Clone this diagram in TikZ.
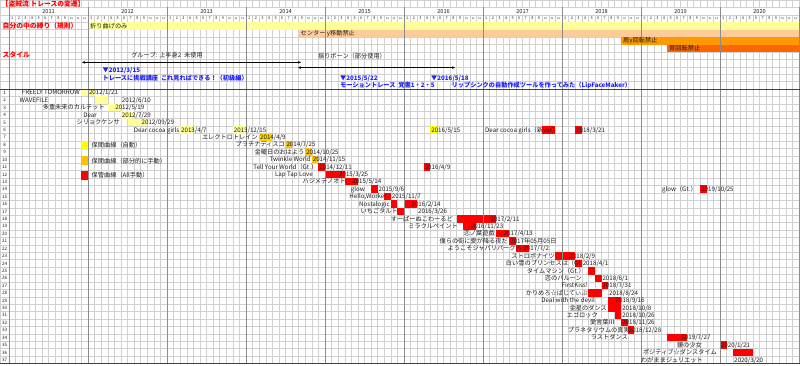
\documentclass[tikz,border=0pt]{standalone}
\usepackage{fontspec}
\setmainfont{Noto Sans CJK JP}
\usetikzlibrary{arrows.meta}
\definecolor{gridc}{HTML}{D0D0D0}
\definecolor{yearc}{HTML}{8C8C8C}
\definecolor{darkc}{HTML}{404040}
\definecolor{paley}{HTML}{FFFF99}
\definecolor{bandy}{HTML}{FFFF99}
\definecolor{peach}{HTML}{FFCC99}
\definecolor{orng}{HTML}{FF9900}
\definecolor{dorng}{HTML}{FF6600}
\definecolor{yel}{HTML}{FFFF00}
\definecolor{gold}{HTML}{FFC000}
\definecolor{goldy}{HTML}{FFD700}
\definecolor{redc}{HTML}{FF0000}
\definecolor{bluec}{HTML}{1F1FFF}
\definecolor{txt}{HTML}{202020}
\newcommand\fsm{\fontsize{6.2}{7}\selectfont}
\newcommand\fsh{\fontsize{6.8}{8}\selectfont\bfseries}
\newcommand\fsb{\fontsize{6.2}{7}\selectfont\bfseries}
\newcommand\rowlbl[4]{\node[lbx] (#1) at (#3,{89.04+(#2-0.5)*7.42}) {#4};}
\newcommand\rowdate[4]{\node[dtx] (#1) at ({9.8+#3*6.58333},{89.04+(#2-0.5)*7.42}) {#4};}
\newcommand\rowbar[4]{\fill[#4] ({9+#2*6.58333},{89.04+(#1-1)*7.42}) rectangle ({9+(#3+1)*6.58333},{89.04+#1*7.42});}
\begin{document}
\begin{tikzpicture}[x=1pt,y=-1pt,
  gl/.style={draw=gridc,line width=0.5pt},
  yl/.style={draw=yearc,line width=0.8pt},
  dk/.style={draw=darkc,line width=0.8pt},
  lbx/.style={anchor=east,inner sep=0,font=\fsm,text=txt,text height=5pt,text depth=0.6pt},
  dtx/.style={anchor=west,inner sep=0,font=\fsm,text=txt,text height=5pt,text depth=0.6pt},
  lfx/.style={anchor=west,inner sep=0,font=\fsm,text=txt,text height=5pt,text depth=0.6pt},
  hred/.style={anchor=west,inner sep=0,font=\fsh,text=redc,text height=5pt,text depth=0.6pt},
  hblue/.style={anchor=west,inner sep=0,font=\fsb,text=bluec,text height=5pt,text depth=0.6pt},
  rn/.style={inner sep=0,font=\fontsize{4.6}{5}\selectfont,text=txt},
  mn/.style={inner sep=0,font=\fontsize{3.8}{4}\selectfont,text=txt},
  mns/.style={inner sep=0,font=\fontsize{2.7}{3}\selectfont,text=txt},
  yr/.style={inner sep=0,font=\fontsize{5.6}{6}\selectfont,text=txt},
  arr/.style={{Stealth[length=3pt,width=2.6pt]}-{Stealth[length=3pt,width=2.6pt]},line width=0.5pt,draw=black}]
\fill[white] (0,0) rectangle (800,366);
\useasboundingbox (0,0) rectangle (800,366);
% grid
\foreach \k in {1,...,120} {
  \draw[gl] ({9+\k*6.58333},0) -- ({9+\k*6.58333},7.42);
  \draw[gl] ({9+\k*6.58333},14.84) -- ({9+\k*6.58333},363.6);
}
\draw[gl] (0.4,0) -- (0.4,363.6);
\draw[gl] (9,0) -- (9,7.42);
\foreach \j in {0,...,48} \draw[gl] (0,{\j*7.42}) -- (800,{\j*7.42});
% rule bands
\fill[bandy] (88,22.26) rectangle (800,29.68);
\fill[peach] (298.67,29.68) rectangle (800,37.1);
\fill[orng] (621.25,37.1) rectangle (800,44.52);
\fill[dorng] (667.33,44.52) rectangle (800,51.94);
% bars
\rowbar{1}{11}{12}{paley}
\rowbar{2}{13}{14}{paley}
\rowbar{3}{15}{16}{paley}
\rowbar{4}{17}{18}{paley}
\rowbar{5}{18}{20}{paley}
\rowbar{6}{26}{27}{paley}
\rowbar{6}{34}{35}{paley}
\rowbar{6}{64}{64}{yel}
\rowbar{6}{81}{82}{redc}
\rowbar{6}{86}{86}{redc}
\rowbar{7}{38}{39}{goldy}
\rowbar{8}{42}{42}{gold}
\rowbar{9}{45}{45}{gold}
\rowbar{10}{46}{46}{gold}
\rowbar{11}{47}{47}{redc}
\rowbar{11}{63}{63}{redc}
\rowbar{12}{48}{50}{redc}
\rowbar{13}{51}{52}{redc}
\rowbar{14}{55}{55}{redc}
\rowbar{14}{105}{105}{redc}
\rowbar{15}{57}{57}{redc}
\rowbar{16}{58}{58}{redc}
\rowbar{16}{60}{61}{redc}
\rowbar{17}{59}{59}{redc}
\rowbar{18}{68}{73}{redc}
\rowbar{19}{69}{70}{redc}
\rowbar{20}{74}{75}{redc}
\rowbar{21}{76}{76}{redc}
\rowbar{22}{77}{78}{redc}
\rowbar{23}{83}{85}{redc}
\rowbar{24}{86}{86}{redc}
\rowbar{25}{88}{88}{redc}
\rowbar{26}{89}{89}{redc}
\rowbar{27}{90}{90}{redc}
\rowbar{28}{88}{89}{redc}
\rowbar{29}{91}{92}{redc}
\rowbar{30}{91}{92}{redc}
\rowbar{31}{92}{92}{redc}
\rowbar{32}{93}{93}{redc}
\rowbar{33}{94}{94}{redc}
\rowbar{34}{100}{102}{redc}
\rowbar{35}{108}{108}{redc}
\rowbar{36}{110}{112}{redc}
% legend squares
\fill[yel] (81.42,141.2) rectangle (88.2,149.8);
\fill[gold] (81.42,156.5) rectangle (88.2,165.1);
\fill[redc] (81.42,171.1) rectangle (88.2,179.7);
% year lines and rules
\foreach \i in {0,...,10} \draw[yl] ({9+\i*79},7.42) -- ({9+\i*79},363.6);
\draw[dk] (0,89.04) -- (800,89.04);
\draw[dk] (0,363.6) -- (800,363.6);
% header texts
\node[hred] (title) at (1.5,3.9) {【盗賊流 トレースの変遷】};
\foreach \i in {0,...,9} {
  \pgfmathtruncatemacro\yy{2011+\i}
  \node[yr] (y\i) at ({9+(\i+0.5)*79},11.1) {\yy};
  \foreach \m in {1,...,9}
    \node[mn] (m\i-\m) at ({9+(\i*12+\m-0.5)*6.58333},18.6) {\m};
  \foreach \m in {10,11,12}
    \node[mns] (m\i-\m) at ({9+(\i*12+\m-0.5)*6.58333},18.6) {\m};
}
\node[hred] (rule) at (2.5,26) {自分の中の縛り（規則）};
\node[lfx] (r0) at (90,26) {折り曲げのみ};
\node[lfx] (r1c) at (300.5,33.4) {センター y移動禁止};
\node[lfx] (r2c) at (623,40.8) {肩y回転禁止};
\node[lfx] (r3c) at (669,48.2) {首回転禁止};
\node[hred] (style) at (2.5,55.6) {スタイル};
\node[lfx,anchor=center] (grp) at (167,55.6) {グループ: 上半身2 \ 未使用};
\node[lfx,anchor=center] (yure) at (352,56.6) {揺りボーン（部分使用）};
\coordinate (a1s) at (82,62.3);
\coordinate (a1e) at (301,62.3);
\coordinate (a2s) at (298,67.6);
\coordinate (a2e) at (455,67.6);
\draw[arr] (a1s) -- (a1e);
\draw[arr] (a2s) -- (a2e);
\node[hblue] (t1) at (102.5,70.7) {▼2012/3/15};
\node[hblue] (t2) at (102.5,78.1) {トレースに挑戦講座\ \ これ見ればできる！（初級編）};
\node[hblue] (t3) at (340,78.1) {▼2015/5/22};
\node[hblue] (t4) at (340,85.5) {モーショントレース\ \ 覚書1・2・5};
\node[hblue] (t5) at (431,78.1) {▼2016/5/18};
\node[hblue] (t6) at (451.5,85.5) {リップシンクの自動作成ツールを作ってみた（LipFaceMaker）};
% row numbers
\foreach \r in {1,...,37} \node[rn] (n\r) at (4.6,{89.04+(\r-0.5)*7.42}) {\r};
% legend labels
\node[lfx] (lg1) at (91.5,145.6) {保間曲線（自動）};
\node[lfx] (lg2) at (91.5,160.9) {保間曲線（部分的に手動）};
\node[lfx] (lg3) at (91.5,175.4) {保管曲線（All手動）};
% labels
\rowlbl{l1}{1}{80}{FREELY TOMORROW}
\rowlbl{l2}{2}{48.5}{WAVEFILE}
\rowlbl{l3}{3}{105}{多重未来のカルテット}
\rowlbl{l4}{4}{97}{Dear}
\rowlbl{l5}{5}{120}{シリョクケンサ}
\rowlbl{l6}{6}{179.5}{Dear cocoa girls}
\rowlbl{l6b}{6}{558.5}{Dear cocoa girls（新ver）}
\rowlbl{l7}{7}{258}{エレクトロトレイン}
\rowlbl{l8}{8}{285}{プラチナディスコ}
\rowlbl{l9}{9}{304.5}{金曜日のおはよう}
\rowlbl{l10}{10}{311}{Twinkle World}
\rowlbl{l11}{11}{317.5}{Tell Your World（Gt.）}
\rowlbl{l12}{12}{313}{Lap Tap Love}
\rowlbl{l13}{13}{346}{ハジメテノオト}
\rowlbl{l14}{14}{365}{glow}
\rowlbl{l14b}{14}{697}{glow（Gt.）}
\rowlbl{l15}{15}{387}{Hello,Worker}
\rowlbl{l16}{16}{390}{Nostalogic}
\rowlbl{l17}{17}{398}{いちごタルト}
\rowlbl{l18}{18}{453}{すーぱーぬこわーるど}
\rowlbl{l19}{19}{458}{ミラクルペイント}
\rowlbl{l20}{20}{495}{恋ノ葉遊戯}
\rowlbl{l21}{21}{508}{僕らの街に愛が降る夜だ}
\rowlbl{l22}{22}{522}{ようこそジャパリパークへ}
\rowlbl{l23}{23}{555}{ストロボナイツ}
\rowlbl{l24}{24}{581}{白い雪のプリンセスは（Gt}
\rowlbl{l25}{25}{585}{タイムマシン（Gt.）}
\rowlbl{l26}{26}{582}{恋のバルーン}
\rowlbl{l27}{27}{588}{FirstKiss!}
\rowlbl{l28}{28}{588}{かりめろ☆ぱじてぃぶ}
\rowlbl{l29}{29}{595}{Deal with the devil}
\rowlbl{l30}{30}{607}{金星のダンス}
\rowlbl{l31}{31}{598}{エゴロック}
\rowlbl{l32}{32}{615}{愛言葉Ⅲ}
\rowlbl{l33}{33}{630}{プラネタリウムの真実}
\rowlbl{l34}{34}{628}{ラストダンス}
\rowlbl{l35}{35}{702}{鏡の少女}
\rowlbl{l36}{36}{717}{ポジティブ☆ダンスタイム}
\rowlbl{l37}{37}{703}{わがままジュリエット}
% dates
\rowdate{d1}{1}{12}{2012/1/21}
\rowdate{d2}{2}{17}{2012/6/10}
\rowdate{d3}{3}{16}{2012/5/19}
\rowdate{d4}{4}{17}{2012/7/29}
\rowdate{d5}{5}{20}{2012/09/29}
\rowdate{d6a}{6}{26}{2013/4/7}
\rowdate{d6b}{6}{34}{2013/12/15}
\rowdate{d6c}{6}{64}{2016/5/15}
\rowdate{d6d}{6}{86}{2018/3/21}
\rowdate{d7}{7}{38}{2014/4/9}
\rowdate{d8}{8}{42}{2014/7/25}
\rowdate{d9}{9}{45}{2014/10/25}
\rowdate{d10}{10}{46}{2014/11/15}
\rowdate{d11a}{11}{47}{2014/12/11}
\rowdate{d11b}{11}{63}{2016/4/9}
\rowdate{d12}{12}{50}{2015/3/25}
\rowdate{d13}{13}{52}{2015/5/14}
\rowdate{d14a}{14}{56}{2015/9/6}
\rowdate{d14b}{14}{105}{2019/10/25}
\rowdate{d15}{15}{58}{2015/11/7}
\rowdate{d16}{16}{61}{2016/2/14}
\rowdate{d17}{17}{62}{2016/3/26}
\rowdate{d18}{18}{73}{2017/2/11}
\rowdate{d19}{19}{70}{2016/11/23}
\rowdate{d20}{20}{75}{2017/4/13}
\rowdate{d21}{21}{76}{2017年05月05日}
\rowdate{d22}{22}{78}{2017/7/2}
\rowdate{d23}{23}{85}{2018/2/9}
\rowdate{d24}{24}{87}{2018/4/1}
\rowdate{d26}{26}{90}{2018/6/1}
\rowdate{d27}{27}{90}{2018/7/31}
\rowdate{d28}{28}{91}{2018/8/24}
\rowdate{d29}{29}{92}{2018/9/16}
\rowdate{d30}{30}{93}{2018/10/8}
\rowdate{d31}{31}{93}{2018/10/26}
\rowdate{d32}{32}{93}{2018/11/26}
\rowdate{d33}{33}{94}{2018/12/28}
\rowdate{d34}{34}{102}{2019/7/27}
\rowdate{d35}{35}{108}{2020/1/21}
\rowdate{d37}{37}{110}{2020/3/20}
\end{tikzpicture}
\end{document}
